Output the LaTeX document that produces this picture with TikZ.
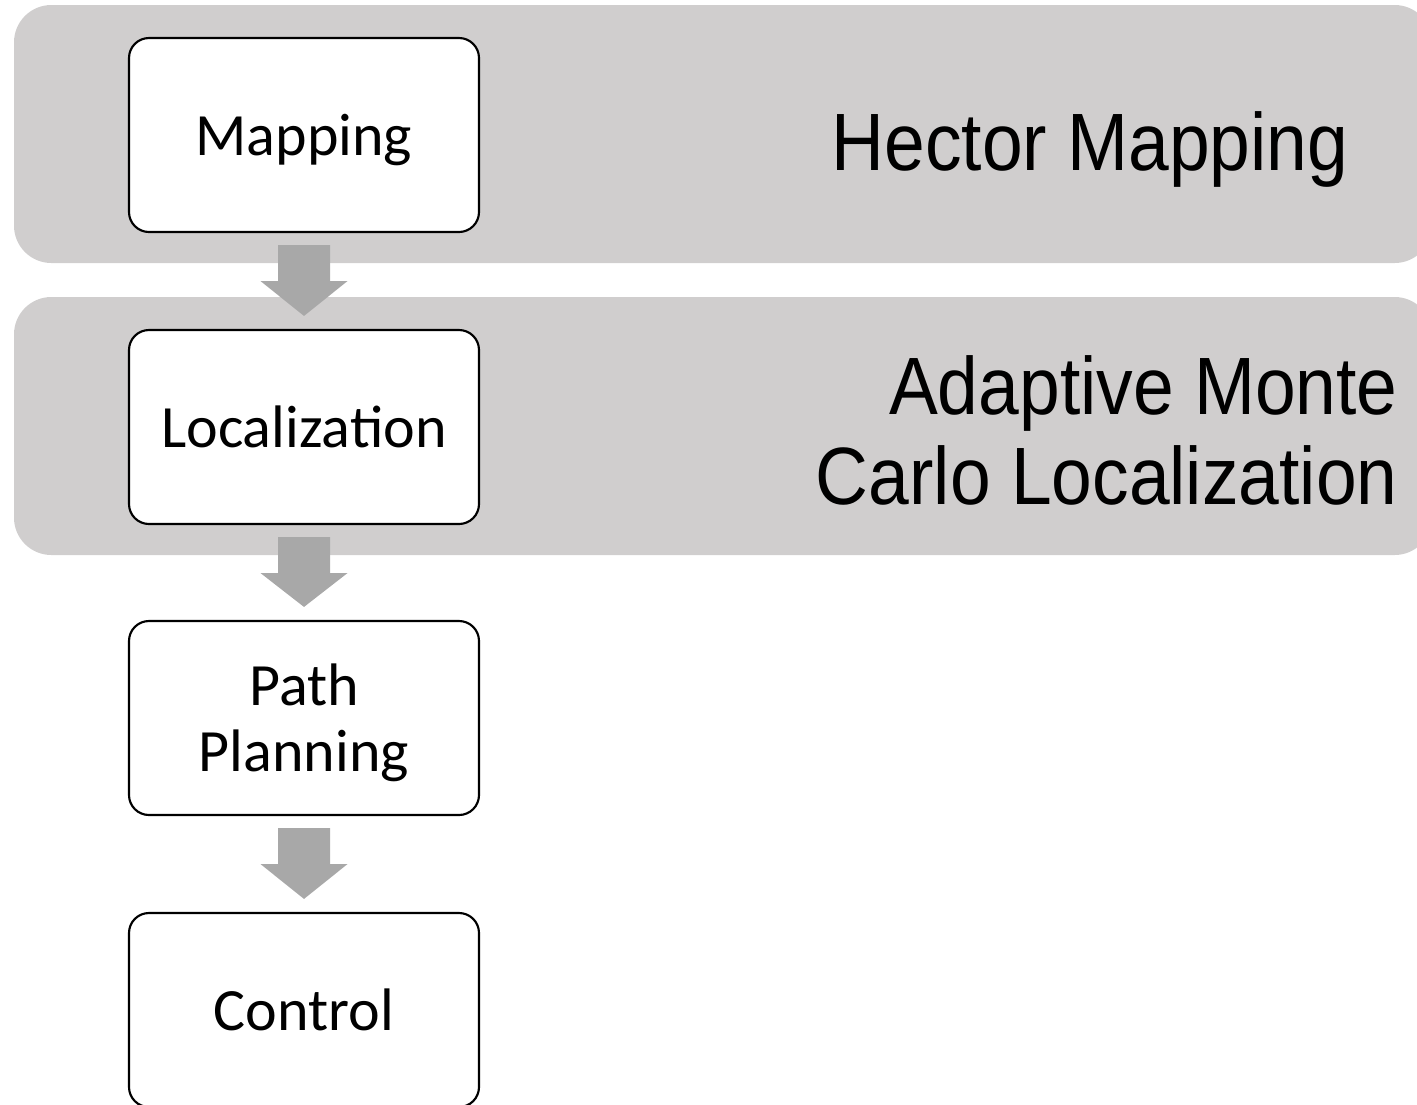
\documentclass[tikz,border=0pt]{standalone}
\usepackage{fontspec}
\setmainfont{Carlito}
\newfontfamily\arialfont[FakeStretch=0.9]{Liberation Sans}
\usetikzlibrary{calc}
\definecolor{bandgray}{RGB}{208,206,206}
\definecolor{arrowgray}{RGB}{168,168,168}
\tikzset{
  band/.style={fill=bandgray, rounded corners=28pt},
  stage/.style={draw=black, fill=white, line width=1.6pt, rounded corners=15pt,
    minimum width=262.5pt, minimum height=145.5pt, align=center, text depth=0pt,
    font=\fontsize{45}{49.5}\selectfont},
  method/.style={align=right, text depth=0pt, inner sep=0pt,
    font=\arialfont\fontsize{61}{67}\selectfont},
  flowarrow/.style={fill=arrowgray}
}
\begin{document}
\begin{tikzpicture}[x=0.75pt,y=0.75pt,yscale=-1,xscale=1]
        \useasboundingbox (0,0) rectangle (1417,1104);
        \fill[band] (14,5) rectangle (1432,263);
        \fill[band] (14,297) rectangle (1432,555);
        \node[stage] (map) at (304,135) {Mapping};
        \node[stage] (loc) at (304,427) {Localization};
        \node[stage] (path) at (304,718) {Path\\Planning};
        \node[stage] (ctrl) at (304,1010) {Control};
        \foreach \a/\b in {map/loc,loc/path,path/ctrl}
          \fill[flowarrow] ($(\a.south)+(-26,12)$) -- ($(\a.south)+(26,12)$) -- ($(\a.south)+(26,48)$)
            -- ($(\a.south)+(43.5,48)$) -- ($(\b.north)+(0,-13)$) -- ($(\a.south)+(-43.5,48)$)
            -- ($(\a.south)+(-26,48)$) -- cycle;
        \node[method] (hector) at (1090,141) {Hector Mapping};
        \node[method, anchor=east] (amcl) at (1398,430) {Adaptive Monte\\Carlo Localization};
\end{tikzpicture}
\end{document}
